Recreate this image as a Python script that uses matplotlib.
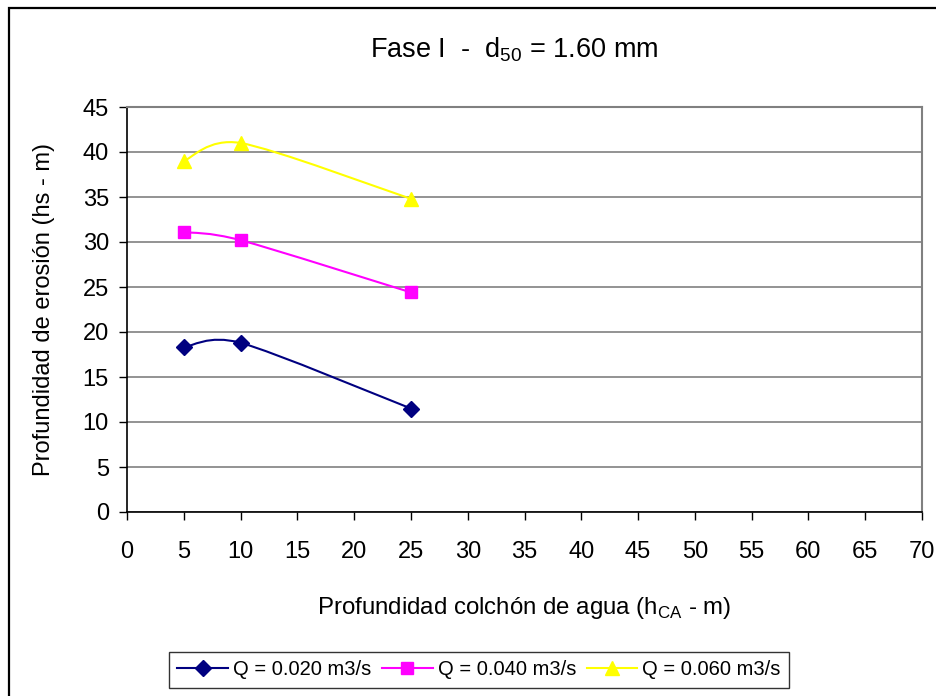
import matplotlib.pyplot as plt
from matplotlib.path import Path
from matplotlib.patches import PathPatch, Rectangle
from matplotlib.lines import Line2D

plt.rcParams['font.family'] = ['Liberation Sans', 'DejaVu Sans']

# Profundidad del colchón de agua (m)
h_ca = [5, 10, 25]

# Profundidad de erosión para cada caudal
hs_q020 = [18.3, 18.8, 11.5]
hs_q040 = [31.1, 30.2, 24.4]
hs_q060 = [39.0, 41.0, 34.8]

series_labels = ['Q = 0.020 m3/s', 'Q = 0.040 m3/s', 'Q = 0.060 m3/s']
series_colors = ['#000080', '#FF00FF', '#FFFF00']
series_markers = ['D', 's', '^']
marker_sizes = [8, 8, 9.5]

x_ticks = list(range(0, 75, 5))
y_ticks = list(range(0, 50, 5))


def smooth_path(xs, ys, k=1 / 7):
    # smoothed line: cubic Bezier segments through each point
    pts = list(zip(xs, ys))
    verts = [pts[0]]
    codes = [Path.MOVETO]
    n = len(pts)
    for i in range(n - 1):
        p0 = pts[max(i - 1, 0)]
        p1 = pts[i]
        p2 = pts[i + 1]
        p3 = pts[min(i + 2, n - 1)]
        c1 = (p1[0] + (p2[0] - p0[0]) * k, p1[1] + (p2[1] - p0[1]) * k)
        c2 = (p2[0] - (p3[0] - p1[0]) * k, p2[1] - (p3[1] - p1[1]) * k)
        verts += [c1, c2, p2]
        codes += [Path.CURVE4] * 3
    return Path(verts, codes)


fig = plt.figure(figsize=(9.36, 6.96), dpi=100)
ax = fig.add_axes([127 / 936, 1 - 512 / 696, 795 / 936, 405 / 696])

# outer chart frame
fig.patches.append(Rectangle((8.5 / 936, -0.1), 1.2, 1 - 8.5 / 696 + 0.1,
                             transform=fig.transFigure, fill=False,
                             edgecolor='black', linewidth=1.6))

handles = []
for ys, lab, col, mk, ms in zip([hs_q020, hs_q040, hs_q060], series_labels,
                                series_colors, series_markers, marker_sizes):
    ax.add_patch(PathPatch(smooth_path(h_ca, ys), facecolor='none',
                           edgecolor=col, linewidth=1.5, zorder=3))
    ax.plot(h_ca, ys, linestyle='none', marker=mk, markersize=ms,
            color=col, zorder=4)
    handles.append(Line2D([], [], color=col, linewidth=1.5, marker=mk,
                          markersize=ms, label=lab))

ax.set_xlim(0, 70)
ax.set_ylim(0, 45)
ax.set_xticks(x_ticks)
ax.set_yticks(y_ticks)
ax.tick_params(direction='out', length=6, width=1, labelsize=17,
               color='black')
ax.tick_params(axis='x', pad=15)
ax.tick_params(axis='y', pad=7)
ax.yaxis.grid(True, color='#808080', linewidth=1.2)
ax.set_axisbelow(True)

for side in ['top', 'right']:
    ax.spines[side].set_color('#808080')
    ax.spines[side].set_linewidth(1.5)
for side in ['left', 'bottom']:
    ax.spines[side].set_color('black')
    ax.spines[side].set_linewidth(1.2)

ax.set_xlabel('Profundidad colchón de agua (h$_{\\mathregular{CA}}$ - m)',
              fontsize=17.3)
ax.xaxis.set_label_coords(0.5, (512 - 608) / 405)
ax.xaxis.label.set_va('center')
ax.set_ylabel('Profundidad de erosión (hs - m)', fontsize=17)
ax.yaxis.set_label_coords((44 - 127) / 795, 0.5)
ax.yaxis.label.set_va('center')

fig.text(514 / 936, 1 - 50 / 696,
         'Fase I  -  d$_{\\mathregular{50}}$ = 1.60 mm',
         ha='center', va='center', fontsize=19.5)

leg = fig.legend(handles=handles, loc='upper left',
                 bbox_to_anchor=(169 / 936, 1 - 652 / 696), ncol=3,
                 fontsize=14.5, frameon=True, fancybox=False,
                 handlelength=2.5, handletextpad=0.25, columnspacing=0.55,
                 borderpad=0.42, borderaxespad=0)
leg.get_frame().set_edgecolor('black')
leg.get_frame().set_linewidth(1.0)

fig.savefig('out.png', dpi=100)
